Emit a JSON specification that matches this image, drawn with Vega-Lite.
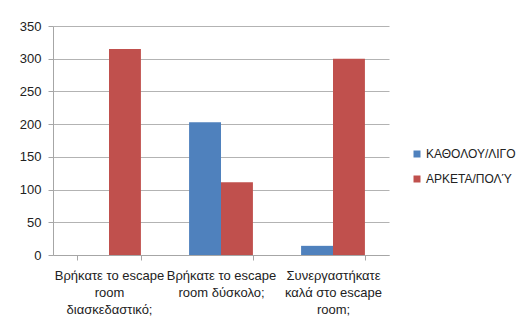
{
  "$schema": "https://vega.github.io/schema/vega-lite/v6.json",
  "width": 336,
  "height": 229,
  "autosize": "none",
  "padding": {"left": 53, "top": 26, "right": 140, "bottom": 67},
  "background": "white",
  "data": {
    "values": [
      {"question": "Βρήκατε το escape room διασκεδαστικό;", "answer": "ΚΑΘΟΛΟΥ/ΛΙΓΟ", "count": 0},
      {"question": "Βρήκατε το escape room διασκεδαστικό;", "answer": "ΑΡΚΕΤΑ/ΠΟΛΎ", "count": 315},
      {"question": "Βρήκατε το escape room δύσκολο;", "answer": "ΚΑΘΟΛΟΥ/ΛΙΓΟ", "count": 203},
      {"question": "Βρήκατε το escape room δύσκολο;", "answer": "ΑΡΚΕΤΑ/ΠΟΛΎ", "count": 111},
      {"question": "Συνεργαστήκατε καλά στο escape room;", "answer": "ΚΑΘΟΛΟΥ/ΛΙΓΟ", "count": 14},
      {"question": "Συνεργαστήκατε καλά στο escape room;", "answer": "ΑΡΚΕΤΑ/ΠΟΛΎ", "count": 300}
    ]
  },
  "mark": {"type": "bar"},
  "encoding": {
    "x": {
      "field": "question",
      "type": "nominal",
      "sort": null,
      "scale": {"paddingInner": 0.43, "paddingOuter": 0.215},
      "axis": {
        "title": null,
        "labelAngle": 0,
        "tickBand": "extent",
        "tickSize": 5,
        "tickColor": "#a6a6a6",
        "domainColor": "#a6a6a6",
        "labelPadding": 9,
        "labelFont": "Liberation Sans",
        "labelFontSize": 13,
        "labelColor": "#222222",
        "labelLineHeight": 17,
        "labelBaseline": "top",
        "labelLimit": 200,
        "labelOverlap": false,
        "labelExpr": "datum.value == 'Βρήκατε το escape room διασκεδαστικό;' ? ['Βρήκατε το escape','room','διασκεδαστικό;'] : datum.value == 'Βρήκατε το escape room δύσκολο;' ? ['Βρήκατε το escape','room δύσκολο;'] : datum.value == 'Συνεργαστήκατε καλά στο escape room;' ? ['Συνεργαστήκατε','καλά στο escape','room;'] : ''"
      }
    },
    "xOffset": {"field": "answer", "type": "nominal", "scale": {"domain": ["ΚΑΘΟΛΟΥ/ΛΙΓΟ", "ΑΡΚΕΤΑ/ΠΟΛΎ"], "paddingInner": 0, "paddingOuter": 0}},
    "y": {
      "field": "count",
      "type": "quantitative",
      "scale": {"domain": [0, 350], "nice": false},
      "axis": {
        "title": null,
        "values": [0, 50, 100, 150, 200, 250, 300, 350],
        "tickSize": 5,
        "tickColor": "#a6a6a6",
        "domainColor": "#a6a6a6",
        "gridColor": "#b3b3b3",
        "labelPadding": 7,
        "labelFont": "Liberation Sans",
        "labelFontSize": 13,
        "labelColor": "#222222"
      }
    },
    "color": {
      "field": "answer",
      "type": "nominal",
      "scale": {"domain": ["ΚΑΘΟΛΟΥ/ΛΙΓΟ", "ΑΡΚΕΤΑ/ΠΟΛΎ"], "range": ["#4F81BD", "#C0504D"]},
      "legend": {
        "title": null,
        "orient": "none",
        "legendX": 358,
        "legendY": 122,
        "symbolType": "square",
        "symbolSize": 49,
        "symbolStrokeWidth": 0,
        "symbolOpacity": 1,
        "labelFont": "Liberation Sans",
        "labelFontSize": 12,
        "labelColor": "#222222",
        "labelOffset": 3,
        "rowPadding": 13,
        "labelLimit": 200
      }
    }
  },
  "config": {"view": {"stroke": null}}
}
